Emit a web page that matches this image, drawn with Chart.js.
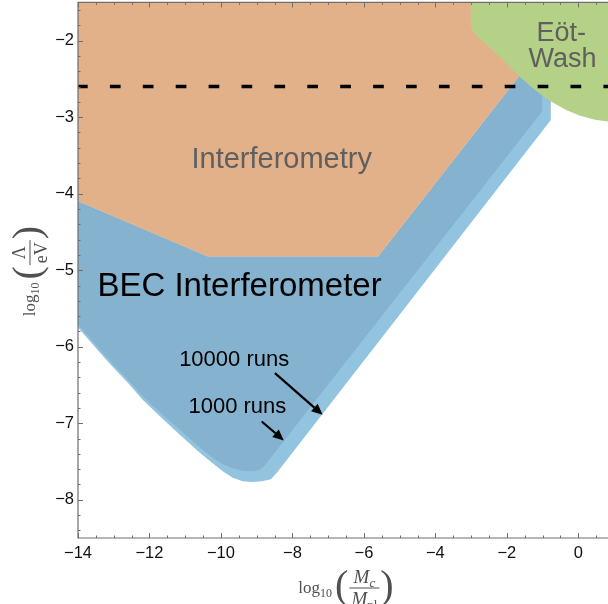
<!DOCTYPE html>
<html lang="en">
<head>
    <meta charset="UTF-8">
    <title>BEC Interferometer constraints</title>
    <script src="https://cdn.jsdelivr.net/npm/chart.js"></script>
    <style>
        html, body { margin: 0; padding: 0; background: #fff; }
        #chart { display: block; }
    </style>
</head>
<body>
    <canvas id="chart" width="608" height="604"></canvas>
    <script>
        // region outlines (x = log10(Mc/Mpl), y = log10(Lambda/eV))
        const interferometryX = [-14, -0.05, -1.63, -5.60, -10.37, -14];
        const interferometryY = [-1.5, -1.5, -2.448, -4.82, -4.82, -4.10];

        // 10000 runs (outer, lighter)
        const runs10000X = [-14, -10.37, -5.60, -1.63, -0.77, -0.77, -8.43, -8.60, -8.85, -9.13, -9.39, -9.67, -9.97, -10.25, -10.59, -11.15, -11.71, -12.19, -12.63, -13.11, -13.53, -14];
        const runs10000Y = [-4.10, -4.82, -4.82, -2.448, -2.30, -3.036, -7.645, -7.732, -7.758, -7.769, -7.758, -7.713, -7.621, -7.517, -7.386, -7.151, -6.909, -6.694, -6.459, -6.223, -6.001, -5.75];

        // 1000 runs (inner, darker)
        const runs1000X = [-14, -10.37, -5.60, -1.63, -1.02, -1.02, -8.80, -8.94, -9.13, -9.39, -9.67, -9.97, -10.25, -10.59, -11.15, -11.71, -12.19, -12.63, -13.11, -13.53, -14];
        const runs1000Y = [-4.10, -4.82, -4.82, -2.448, -2.30, -2.93, -7.565, -7.615, -7.628, -7.621, -7.589, -7.530, -7.445, -7.321, -7.086, -6.857, -6.648, -6.419, -6.184, -5.962, -5.714];

        // Eot-Wash excluded region
        const eotWashX = [-3.01, 1.0, 1.0, 0.83, 0.47, 0.05, -0.34, -0.74, -1.07, -1.38, -1.69, -1.97, -2.28, -2.53, -2.75, -2.92, -3.01];
        const eotWashY = [-1.5, -1.5, -3.07, -3.058, -3.035, -2.983, -2.905, -2.801, -2.696, -2.579, -2.448, -2.317, -2.174, -2.069, -1.978, -1.899, -1.838];

        const dashedX = [-14, 1.0];
        const dashedY = [-2.6, -2.6];

        const xTicks = [-14, -12, -10, -8, -6, -4, -2, 0];
        const yTicks = [-8, -7, -6, -5, -4, -3, -2];

        const zip = (xs, ys) => xs.map((x, i) => ({ x: x, y: ys[i] }));
        const minus = v => (v < 0 ? '\u2212' + Math.abs(v) : String(v));

        const gray = 'rgb(95,95,95)';

        function region(pts, color, order) {
            return {
                data: pts, fill: 'shape', backgroundColor: color,
                borderWidth: 0, pointRadius: 0, tension: 0, order: order
            };
        }

        // text drawn with sub/superscript pieces
        function partsWidth(ctx, parts) {
            let w = 0;
            for (const p of parts) { ctx.font = p.f; w += ctx.measureText(p.t).width + (p.gap || 0); }
            return w;
        }
        function drawParts(ctx, parts, x, y) {
            for (const p of parts) {
                ctx.font = p.f;
                ctx.fillText(p.t, x, y + (p.dy || 0));
                x += ctx.measureText(p.t).width + (p.gap || 0);
            }
        }

        const serif = '"Liberation Serif", "DejaVu Serif", serif';
        function drawLogFrac(ctx, cx, cy, num, den, rotated) {
            ctx.save();
            ctx.translate(cx, cy);
            if (rotated) ctx.rotate(-Math.PI / 2);
            ctx.fillStyle = 'rgb(80,80,80)';
            ctx.strokeStyle = 'rgb(80,80,80)';
            ctx.textBaseline = 'alphabetic';
            const logParts = [{ t: 'log', f: '17px ' + serif }, { t: '10', f: '12px ' + serif, dy: 4, gap: 3 }];
            const paren = '40px ' + serif;
            ctx.font = paren;
            const pw = ctx.measureText('(').width;
            const lw = partsWidth(ctx, logParts);
            const fw = Math.max(partsWidth(ctx, num), partsWidth(ctx, den)) + 4;
            const total = lw + pw + fw + pw + 2;
            let x = -total / 2;
            const axisY = -5;
            drawParts(ctx, logParts, x, 0);
            x += lw;
            ctx.font = paren;
            ctx.fillText('(', x, axisY + 10);
            x += pw + 1;
            const nw = partsWidth(ctx, num), dw = partsWidth(ctx, den);
            drawParts(ctx, num, x + (fw - nw) / 2, axisY - 5);
            drawParts(ctx, den, x + (fw - dw) / 2, axisY + 17);
            ctx.lineWidth = 1;
            ctx.beginPath();
            ctx.moveTo(x, axisY); ctx.lineTo(x + fw, axisY);
            ctx.stroke();
            x += fw + 1;
            ctx.font = paren;
            ctx.fillText(')', x, axisY + 10);
            ctx.restore();
        }

        const sans = '"Liberation Sans", Arial, sans-serif';
        const notes = [
            { text: 'Interferometry', x: -8.30, y: -3.66, size: 29, color: gray },
            { text: 'BEC Interferometer', x: -9.48, y: -5.335, size: 33, color: '#000' },
            { text: 'E\u00f6t-', x: -0.48, y: -2.0, size: 27, color: gray },
            { text: 'Wash', x: -0.44, y: -2.34, size: 27, color: gray },
            { text: '10000 runs', x: -9.63, y: -6.25, size: 22, color: '#000' },
            { text: '1000 runs', x: -9.54, y: -6.86, size: 22, color: '#000' }
        ];
        const arrows = [
            { x0: -8.49, y0: -6.345, x1: -7.155, y1: -6.89 },
            { x0: -8.86, y0: -6.977, x1: -8.24, y1: -7.225 }
        ];

        const decorations = {
            id: 'decorations',
            afterDatasetsDraw(chart) {
                const { ctx, chartArea: a, scales: { x, y } } = chart;
                ctx.save();

                // annotations
                ctx.textAlign = 'center';
                ctx.textBaseline = 'alphabetic';
                for (const n of notes) {
                    ctx.font = n.size + 'px ' + sans;
                    ctx.fillStyle = n.color;
                    ctx.fillText(n.text, x.getPixelForValue(n.x), y.getPixelForValue(n.y));
                }
                ctx.fillStyle = '#000';
                ctx.strokeStyle = '#000';
                ctx.lineWidth = 2.2;
                for (const r of arrows) {
                    const px0 = x.getPixelForValue(r.x0), py0 = y.getPixelForValue(r.y0);
                    const px1 = x.getPixelForValue(r.x1), py1 = y.getPixelForValue(r.y1);
                    const ang = Math.atan2(py1 - py0, px1 - px0);
                    const hl = 11, hw = 5;
                    ctx.beginPath();
                    ctx.moveTo(px0, py0);
                    ctx.lineTo(px1 - hl * Math.cos(ang), py1 - hl * Math.sin(ang));
                    ctx.stroke();
                    ctx.beginPath();
                    ctx.moveTo(px1, py1);
                    ctx.lineTo(px1 - hl * Math.cos(ang) + hw * Math.sin(ang), py1 - hl * Math.sin(ang) - hw * Math.cos(ang));
                    ctx.lineTo(px1 - hl * Math.cos(ang) - hw * Math.sin(ang), py1 - hl * Math.sin(ang) + hw * Math.cos(ang));
                    ctx.closePath();
                    ctx.fill();
                }

                // frame and inward ticks
                ctx.strokeStyle = 'rgb(110,110,110)';
                ctx.lineWidth = 1.2;
                ctx.beginPath();
                ctx.moveTo(a.right, a.top); ctx.lineTo(a.left, a.top);
                ctx.lineTo(a.left, a.bottom); ctx.lineTo(a.right, a.bottom);
                ctx.stroke();
                ctx.lineWidth = 1;
                ctx.beginPath();
                for (let i = -28; i <= 1; i++) {
                    const px = Math.round(x.getPixelForValue(i / 2)) + 0.5;
                    const len = i % 4 === 0 ? 5 : 2.5;
                    ctx.moveTo(px, a.bottom); ctx.lineTo(px, a.bottom - len);
                    ctx.moveTo(px, a.top); ctx.lineTo(px, a.top + len);
                }
                for (let i = -42; i <= -8; i++) {
                    const py = Math.round(y.getPixelForValue(i / 5)) + 0.5;
                    const len = i % 5 === 0 ? 5 : 2.5;
                    ctx.moveTo(a.left, py); ctx.lineTo(a.left + len, py);
                }
                ctx.stroke();
                ctx.restore();

                // axis titles
                drawLogFrac(ctx, 346, 593,
                    [{ t: 'M', f: 'italic 19px ' + serif }, { t: 'c', f: 'italic 13px ' + serif, dy: 4 }],
                    [{ t: 'M', f: 'italic 19px ' + serif }, { t: 'pl', f: '13px ' + serif, dy: 4 }], false);
                drawLogFrac(ctx, 35, 271,
                    [{ t: '\u039b', f: '18px ' + serif }],
                    [{ t: 'eV', f: '18px ' + serif }], true);
            }
        };

        const tickFont = { family: sans, size: 16.5 };
        const noPad = s => { s.paddingTop = 0; s.paddingBottom = 0; s.paddingLeft = 0; s.paddingRight = 0; };

        new Chart(document.getElementById('chart'), {
            type: 'line',
            data: {
                datasets: [
                    { data: zip(dashedX, dashedY), borderColor: '#000', borderWidth: 3.5, borderDash: [10.7, 22.2], borderDashOffset: 1, pointRadius: 0, fill: false, order: 0 },
                    region(zip(eotWashX, eotWashY), 'rgb(181,209,135)', 1),
                    region(zip(interferometryX, interferometryY), 'rgb(226,177,138)', 2),
                    region(zip(runs1000X, runs1000Y), 'rgb(132,178,207)', 3),
                    region(zip(runs10000X, runs10000Y), 'rgb(146,195,223)', 4)
                ]
            },
            options: {
                responsive: false,
                animation: false,
                events: [],
                layout: { padding: { top: 2.4, right: 0, left: 0, bottom: 0 } },
                plugins: { legend: { display: false }, tooltip: { enabled: false } },
                scales: {
                    x: {
                        type: 'linear', min: -14, max: 0.83,
                        afterFit: s => { s.height = 66; noPad(s); },
                        grid: { display: false, drawTicks: false },
                        border: { display: false },
                        afterBuildTicks: s => { s.ticks = xTicks.map(v => ({ value: v })); },
                        ticks: { padding: 6, font: tickFont, color: '#111', maxRotation: 0, autoSkip: false, callback: minus }
                    },
                    y: {
                        type: 'linear', min: -8.5, max: -1.5,
                        afterFit: s => { s.width = 78; noPad(s); },
                        grid: { display: false, drawTicks: false },
                        border: { display: false },
                        afterBuildTicks: s => { s.ticks = yTicks.map(v => ({ value: v })); },
                        ticks: { padding: 4, font: tickFont, color: '#111', autoSkip: false, callback: minus }
                    }
                }
            },
            plugins: [decorations]
        });
    </script>
</body>
</html>
